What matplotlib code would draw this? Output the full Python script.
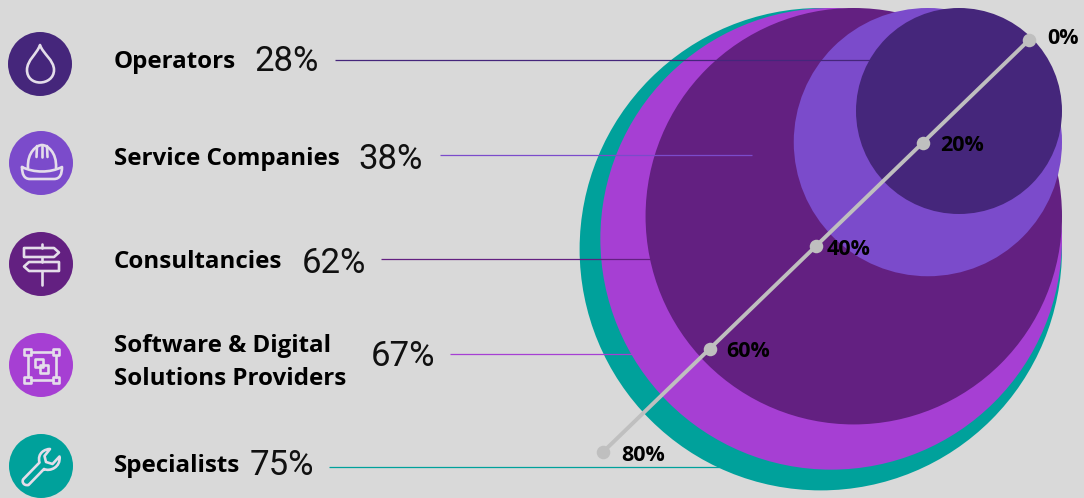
import matplotlib
matplotlib.use("Agg")
import matplotlib.pyplot as plt
import numpy as np
from matplotlib.patches import Circle, PathPatch, Rectangle
from matplotlib.path import Path

# ---- data ----
categories = ["Operators", "Service Companies", "Consultancies",
              "Software & Digital\nSolutions Providers", "Specialists"]
shares = [28, 38, 62, 67, 75]
# extent of each circle read along the ruler, in ruler percent
ruler_extent = [27.8, 36.2, 56.2, 62.3, 65.1]
ruler_ticks = [0, 20, 40, 60, 80]

# ---- style / layout ----
colors = ["#45267B", "#7B4BCB", "#632081", "#A63FD3", "#00A19B"]
BG = "#D9D9D9"
RULER = "#BFBFBF"
W, H = 1084, 498
PX_PER_PCT = 7.41
CORNER = (1062, 8)
R0 = np.array([1029, 40.0])
R80 = np.array([603, 452.0])
icon_x = [40, 41, 41, 41, 41]
icon_y = [64, 163, 264, 365, 466]
label_y = [62, 159, 262, 362, 466]
value_x = [254, 358, 302, 371, 250]
value_y = [61, 159, 263, 356, 465]
lead_y = [60, 155, 259, 354, 467]
lead_x0 = [335, 440, 381, 450, 329]
lead_x1 = [870, 752, 652, 632, 720]
tick_dx = [18, 18, 11, 17, 18]
tick_dy = [-2, 2, 3, 2, 3]

BOLD = dict(family=["Open Sans", "DejaVu Sans"], fontweight="bold", color="black")
VALUE = ["Roboto", "Liberation Sans", "DejaVu Sans"]

fig = plt.figure(figsize=(W / 100, H / 100), dpi=100, facecolor=BG)
ax = fig.add_axes([0, 0, 1, 1])
ax.set_xlim(0, W)
ax.set_ylim(H, 0)
ax.axis("off")

# nested circles, tangent to a common top-right corner
for ext, c in sorted(zip(ruler_extent, colors), reverse=True):
    r = ext * PX_PER_PCT / 2
    ax.add_patch(Circle((CORNER[0] - r, CORNER[1] + r), r, fc=c, ec="none", zorder=2))

# labels, values and leaders
for i, (cat, val, c) in enumerate(zip(categories, shares, colors)):
    ax.add_patch(Circle((icon_x[i], icon_y[i]), 32, fc=c, ec="none", zorder=2))
    ax.text(114, label_y[i], cat, fontsize=17.4, va="center", ha="left",
            linespacing=1.5, zorder=5, **BOLD)
    ax.text(value_x[i], value_y[i], f"{val}%", fontsize=25, va="center", ha="left",
            family=VALUE, fontweight="normal", color="#111111", zorder=5)
    ax.plot([lead_x0[i], lead_x1[i]], [lead_y[i]] * 2, color=c, lw=0.9, zorder=4,
            solid_capstyle="butt")

# ruler
ruler_pos = lambda p: R0 + (R80 - R0) * p / 80
pts = np.array([ruler_pos(p) for p in ruler_ticks])
ax.plot(pts[:, 0], pts[:, 1], color=RULER, lw=2.8, zorder=6)
ax.scatter(pts[:, 0], pts[:, 1], s=95, color=RULER, zorder=7, linewidths=0)
for p, (x, y), dx, dy in zip(ruler_ticks, pts, tick_dx, tick_dy):
    ax.text(x + dx, y + dy, f"{p}%", fontsize=15.5, va="center", ha="left", zorder=8, **BOLD)

# icons
ICON = dict(fc="none", ec="#E4DDEA", lw=1.9, zorder=3, joinstyle="round", capstyle="round")
M, L, C, Z = Path.MOVETO, Path.LINETO, Path.CURVE4, Path.CLOSEPOLY

def poly(verts, closed=True, **kw):
    v = list(verts)
    codes = [M] + [L] * (len(v) - 1)
    if closed:
        v.append(v[0]); codes.append(Z)
    ax.add_patch(PathPatch(Path(v, codes), **{**ICON, **kw}))

def curve(verts, codes):
    ax.add_patch(PathPatch(Path(verts, codes), **ICON))

# drop
curve([(40, 45), (43, 54), (54, 60), (54, 70), (54, 78), (47, 82.5), (40, 82.5),
       (33, 82.5), (27, 78), (27, 70), (27, 60), (37, 54), (40, 45), (40, 45)],
      [M, C, C, C, C, C, C, C, C, C, C, C, C, Z])
# helmet
curve([(28, 168), (27, 152), (37, 145), (42, 145), (47, 145), (57, 152), (56, 168)],
      [M, C, C, C, C, C, C])
curve([(22, 167), (22, 174), (24, 179), (30, 179), (54, 179), (60, 179), (62, 174), (62, 167),
       (50, 173), (34, 173), (22, 167)],
      [M, C, C, C, L, C, C, C, C, C, C])
for x0, x1 in [(37, 36.5), (42, 42), (47, 47.5)]:
    poly([(x0, 146), (x1, 157)], closed=False)
# signpost
poly([(41.5, 244), (41.5, 248)], closed=False)
poly([(41.5, 257), (41.5, 262)], closed=False)
poly([(41.5, 271), (41.5, 285)], closed=False)
poly([(24, 248), (54, 248), (59, 252.5), (54, 257), (24, 257)])
poly([(59, 262), (29, 262), (24, 266.5), (29, 271), (59, 271)])
# frame
for cx in (27.5, 56):
    for cy in (352, 380):
        ax.add_patch(Rectangle((cx - 3.2, cy - 3.2), 6.4, 6.4, **ICON))
poly([(31, 352), (52.5, 352)], closed=False)
poly([(31, 380), (52.5, 380)], closed=False)
poly([(27.5, 355.5), (27.5, 376.5)], closed=False)
poly([(56, 355.5), (56, 376.5)], closed=False)
ax.add_patch(Rectangle((34.5, 358.5), 8, 8.5, **ICON))
ax.add_patch(Rectangle((39.5, 364.5), 8, 8.5, **ICON))
# wrench
curve([(23.5, 479), (39.5, 462.5), (37, 453), (45, 449), (50, 449), (44.5, 456), (46, 462),
       (52.5, 464), (59.5, 456.5), (61, 467), (50, 472), (44, 469), (28.5, 485), (23, 486),
       (21.5, 481), (23.5, 479), (23.5, 479)],
      [M, L, C, C, C, L, L, L, L, C, C, C, L, C, C, C, Z])

fig.savefig("out.png", dpi=100, facecolor=BG)
